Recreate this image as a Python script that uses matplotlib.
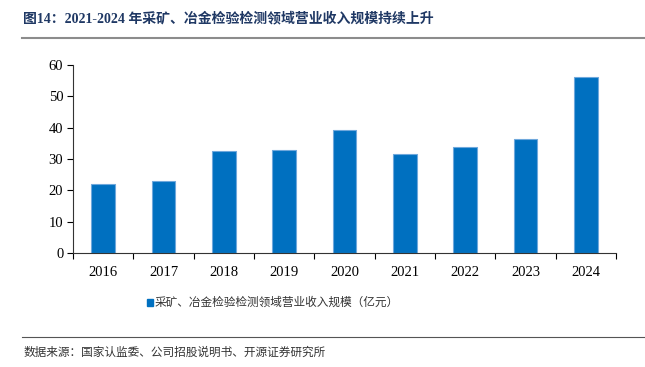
import numpy as np
import matplotlib.pyplot as plt
from matplotlib.lines import Line2D
from matplotlib.patches import Rectangle

years = ['2016', '2017', '2018', '2019', '2020', '2021', '2022', '2023', '2024']
revenue = [22.0, 23.0, 32.6, 32.9, 39.1, 31.5, 33.8, 36.3, 56.3]
yticks = [0, 10, 20, 30, 40, 50, 60]

title = '图14：2021-2024 年采矿、冶金检验检测领域营业收入规模持续上升'
legend_label = '采矿、冶金检验检测领域营业收入规模（亿元）'
source = '数据来源：国家认监委、公司招股说明书、开源证券研究所'

serif = ['Liberation Serif', 'Noto Sans CJK SC']
cjk = ['Noto Sans CJK SC', 'DejaVu Sans']
blue = '#0070C0'

fig = plt.figure(figsize=(6.45, 3.67), dpi=100)
W, H = 645, 367
ax = fig.add_axes([73 / W, 1 - 253 / H, (616 - 73) / W, (253 - 65) / H])

x = np.arange(len(years))
ax.bar(x, revenue, width=0.39, color=blue, edgecolor='#6FA8DC', linewidth=0.8)
ax.set_xlim(-0.5, len(years) - 0.5)
ax.set_ylim(0, 60)
ax.set_yticks(yticks)
ax.set_yticklabels([str(v) for v in yticks], family=serif, fontsize=10.5)
ax.set_xticks(x)
ax.set_xticklabels(years, family=serif, fontsize=10.5)
ax.set_xticks(np.arange(len(years) + 1) - 0.5, minor=True)
ax.tick_params(axis='x', which='major', length=0, pad=9)
ax.tick_params(axis='x', which='minor', length=4, direction='out', width=0.8)
ax.tick_params(axis='y', length=4, direction='out', width=0.8, pad=3)
for s in ['top', 'right']:
    ax.spines[s].set_visible(False)
for s in ['left', 'bottom']:
    ax.spines[s].set_linewidth(0.8)
    ax.spines[s].set_color('#333333')

# title and rules
fig.text(23 / W, 1 - 18 / H, title, family=serif, fontsize=10, weight='bold',
         color='#1F3864', va='center', ha='left')
fig.add_artist(Line2D([22 / W, 1], [1 - 37.5 / H] * 2, color='#8C8C8C', lw=1.5))
fig.add_artist(Line2D([22 / W, 1], [1 - 337 / H] * 2, color='#555555', lw=0.8))

# legend
fig.add_artist(Rectangle((147 / W, 1 - 306 / H), 6 / W, 7 / H, color=blue))
fig.text(155 / W, 1 - 302 / H, legend_label, family=cjk, fontsize=8.4,
         color='#333333', va='center', ha='left')

fig.text(23 / W, 1 - 352 / H, source, family=cjk, fontsize=8.4,
         color='#333333', va='center', ha='left')

fig.savefig('out.png', dpi=100)
